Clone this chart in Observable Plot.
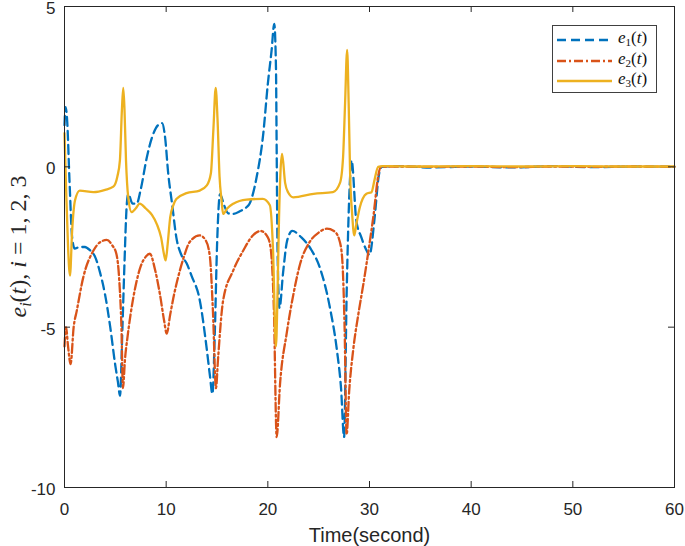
<!DOCTYPE html>
<html><head><meta charset="utf-8">
<script src="https://cdn.jsdelivr.net/npm/d3@7"></script>
<script src="https://cdn.jsdelivr.net/npm/@observablehq/plot@0.6"></script>
<style>
body{margin:0;background:#fff;}
#wrap{position:relative;width:685px;height:546px;}
#legend{position:absolute;left:552px;top:25px;width:105px;height:68px;border:1px solid #404040;background:#fff;box-sizing:border-box;}
.row{position:absolute;left:3px;height:20px;display:flex;align-items:center;}
.lab{font-family:"Liberation Serif",serif;font-size:17px;margin-left:5px;color:#111;line-height:20px;}
.lab sub{font-size:11px;font-style:normal;vertical-align:-3px;}
</style></head><body><div id="wrap"></div>
<script>
// time (s), value
const e1Points = [[0,1.3],[0.1,1.86],[0.25,1.5],[0.5,-0.5],[0.75,-2.2],[1.0,-2.55],[1.5,-2.5],[2.0,-2.5],[2.5,-2.6],[3.0,-2.8],[3.5,-3.3],[4.0,-4.0],[4.5,-5.0],[5.0,-6.2],[5.25,-6.7],[5.46,-7.14],[5.7,-5.0],[5.9,-3.0],[6.1,-1.3],[6.27,-0.85],[6.7,-1.15],[7.1,-1.15],[7.5,-0.7],[8.1,0.3],[8.7,1.0],[9.2,1.3],[9.6,1.36],[9.9,0.9],[10.2,-0.2],[10.6,-1.2],[11.0,-2.2],[11.5,-2.75],[12.0,-3.0],[12.5,-3.4],[13.3,-4.15],[14.0,-5.7],[14.3,-6.5],[14.55,-7.08],[14.8,-5.0],[15.0,-2.5],[15.3,-0.85],[15.7,-1.2],[16.1,-1.45],[16.6,-1.47],[17.3,-1.38],[17.9,-1.26],[18.2,-1.15],[18.9,-0.32],[19.55,1.03],[20.0,2.59],[20.37,3.63],[20.63,4.46],[20.8,3.1],[20.87,0.5],[20.95,-2.5],[21.15,-4.4],[21.5,-3.3],[21.9,-2.3],[22.4,-2.0],[23.3,-2.2],[24.3,-2.6],[25.1,-3.13],[26.1,-4.38],[26.8,-5.73],[27.2,-6.9],[27.5,-8.43],[27.75,-4.0],[28.0,-1.0],[28.24,0.2],[28.7,-1.67],[29.2,-2.2],[29.7,-2.6],[30.0,-2.75],[30.5,-1.6],[30.9,-0.3],[31.2,0],[33,0.02],[36,-0.02],[40,0.01],[44,-0.02],[48,0.02],[52,-0.01],[56,0.01],[60,0]];
const e2Points = [[0,-5.6],[0.15,-5.0],[0.35,-5.6],[0.6,-6.15],[0.9,-5.0],[1.2,-4.5],[1.85,-3.44],[2.85,-2.61],[3.5,-2.35],[4.15,-2.28],[4.7,-2.45],[5.1,-2.71],[5.4,-3.6],[5.6,-5.0],[5.75,-6.9],[5.95,-6.0],[6.2,-5.3],[6.5,-4.6],[7.0,-3.7],[7.5,-3.1],[8.0,-2.8],[8.4,-2.71],[8.9,-3.2],[9.4,-4.0],[9.8,-4.8],[10.05,-5.2],[10.4,-4.6],[10.7,-4.1],[11.35,-3.23],[11.7,-2.85],[12.3,-2.35],[13.3,-2.14],[13.9,-2.3],[14.3,-2.8],[14.6,-4.5],[14.9,-6.9],[15.1,-6.0],[15.6,-4.17],[16.6,-3.23],[17.6,-2.6],[18.5,-2.15],[19.3,-2.0],[20.0,-2.2],[20.3,-2.6],[20.6,-4.5],[20.87,-8.43],[21.2,-6.77],[21.85,-5.2],[22.5,-4.0],[23.2,-3.0],[24.1,-2.35],[25.0,-2.05],[25.8,-1.93],[26.5,-2.0],[27.0,-2.25],[27.3,-2.8],[27.55,-5.0],[27.75,-8.35],[28.0,-7.0],[28.4,-5.7],[28.9,-4.6],[29.4,-3.65],[30.0,-2.4],[30.4,-1.5],[30.85,-0.3],[31.1,0],[33,0.01],[36,0],[40,0.01],[44,-0.01],[48,0.01],[52,0],[56,0.01],[60,0]];
const e3Points = [[0,1.05],[0.15,-0.6],[0.35,-2.5],[0.54,-3.39],[0.75,-2.0],[1.03,-1.05],[1.5,-0.74],[2.85,-0.79],[4.0,-0.72],[4.8,-0.62],[5.2,-0.3],[5.45,0.2],[5.65,1.8],[5.78,2.46],[5.9,1.8],[6.05,0.2],[6.27,-0.95],[6.6,-1.41],[7.0,-1.3],[7.4,-1.15],[8.0,-1.3],[8.6,-1.5],[9.1,-1.8],[9.5,-2.2],[9.8,-2.75],[9.95,-2.92],[10.15,-2.4],[10.4,-1.57],[10.7,-1.2],[11.0,-1.0],[12.0,-0.82],[13.3,-0.74],[14.0,-0.58],[14.4,-0.2],[14.65,1.2],[14.87,2.46],[15.05,1.5],[15.25,-0.3],[15.45,-1.05],[15.6,-1.47],[16.0,-1.3],[16.6,-1.15],[17.9,-1.02],[19.5,-1.0],[20.2,-1.2],[20.5,-2.5],[20.8,-5.6],[20.95,-4.0],[21.1,-1.6],[21.4,0.4],[21.7,-0.5],[22.0,-0.8],[22.5,-0.95],[24.5,-0.84],[26.4,-0.79],[27.1,-0.5],[27.4,0.3],[27.6,2.0],[27.8,3.65],[27.95,2.0],[28.1,-0.3],[28.3,-1.5],[28.5,-2.14],[28.7,-1.8],[29.05,-1.26],[29.7,-0.84],[30.2,-0.79],[30.5,-0.4],[30.85,0],[31.3,0.02],[35,0.01],[40,0.02],[45,0.01],[50,0.02],[55,0.01],[60,0.01]];

const seriesNames = ["e1", "e2", "e3"];
const seriesSubs = ["1", "2", "3"];
const seriesColors = ["#0072BD", "#D95319", "#EDB120"];
const seriesDashes = ["9,5", "9,3,2,3", null];
const xTicks = [0, 10, 20, 30, 40, 50, 60];
const yTicks = [-10, -5, 0, 5];
const xLabel = "Time(second)";
const yLabelParts = [["e", "it"], ["i", "sub"], ["(", ""], ["t", "it"], ["), ", ""], ["i", "it"], [" = 1, 2, 3", ""]];

const allPoints = [e1Points, e2Points, e3Points];
const W = 685, H = 546, mt = 6, mb = 59, ml = 64, mr = 11, tick = 6;
const pw = W - ml - mr, ph = H - mt - mb;

const lineMarks = allPoints.map((pts, i) =>
  Plot.line(pts, {x: d => d[0], y: d => d[1], stroke: seriesColors[i], strokeWidth: 2.3,
    strokeDasharray: seriesDashes[i] || undefined, curve: "monotone-x"}));

const plot = Plot.plot({
  width: W, height: H, marginTop: mt, marginBottom: mb, marginLeft: ml, marginRight: mr,
  x: {domain: [0, 60]}, y: {domain: [-10, 5]},
  style: {fontFamily: "'Liberation Sans', Arial, sans-serif", fontSize: "17px", color: "#262626", background: "#fff"},
  marks: [
    ...lineMarks,
    Plot.frame({stroke: "#262626"}),
    Plot.tickX(xTicks, {x: d => d, insetTop: ph - tick, stroke: "#262626"}),
    Plot.tickX(xTicks, {x: d => d, insetBottom: ph - tick, stroke: "#262626"}),
    Plot.tickY(yTicks, {y: d => d, insetRight: pw - tick, stroke: "#262626"}),
    Plot.tickY(yTicks, {y: d => d, insetLeft: pw - tick, stroke: "#262626"}),
    Plot.axisX(xTicks, {tickSize: 0, tickPadding: 15, label: null, tickFormat: d => String(d), fontSize: 17}),
    Plot.axisY(yTicks, {tickSize: 0, tickPadding: 9, dy: 2, label: null, tickFormat: d => String(d), fontSize: 17}),
    Plot.text([xLabel], {frameAnchor: "bottom", lineAnchor: "middle", dy: 48, fontSize: 20, fill: "#262626"})
  ]
});

// y-axis label with math-style subscripts
const yl = d3.select(plot).append("text")
  .attr("transform", `translate(26,${mt + ph / 2}) rotate(-90)`)
  .attr("text-anchor", "middle")
  .attr("font-family", "'Liberation Serif', serif")
  .attr("font-size", 24).attr("fill", "#262626");
let shifted = false;
yLabelParts.forEach(([txt, kind]) => {
  const ts = yl.append("tspan").text(txt);
  if (kind === "it" || kind === "sub") ts.attr("font-style", "italic");
  if (kind === "sub") { ts.attr("font-size", 16).attr("dy", 5); shifted = true; }
  else if (shifted) { ts.attr("dy", -5); shifted = false; }
});

const wrap = document.getElementById("wrap");
wrap.appendChild(plot);

// legend
const leg = document.createElement("div");
leg.id = "legend";
seriesNames.forEach((name, i) => {
  const row = document.createElement("div");
  row.className = "row";
  row.style.top = (4 + i * 20.5) + "px";
  const svg = d3.create("svg").attr("width", 57).attr("height", 20);
  svg.append("line").attr("x1", 1).attr("x2", 56).attr("y1", 10).attr("y2", 10)
    .attr("stroke", seriesColors[i]).attr("stroke-width", 2.3)
    .attr("stroke-dasharray", seriesDashes[i]);
  row.appendChild(svg.node());
  const lab = document.createElement("span");
  lab.className = "lab";
  lab.innerHTML = `<i>e</i><sub>${seriesSubs[i]}</sub>(<i>t</i>)`;
  row.appendChild(lab);
  leg.appendChild(row);
});
wrap.appendChild(leg);
</script>
</body></html>
